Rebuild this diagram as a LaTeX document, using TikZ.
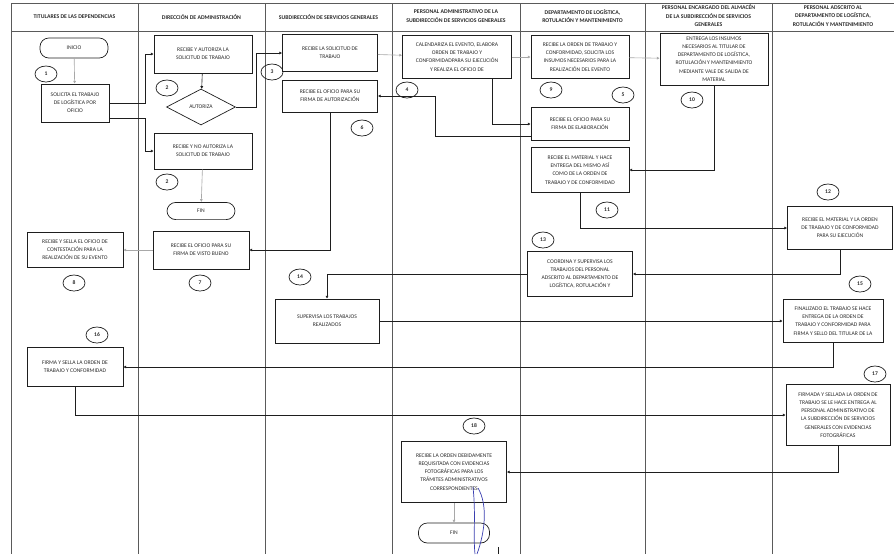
\documentclass[tikz,border=0pt]{standalone}
\usepackage{fontspec}
\setmainfont{Carlito}
\usetikzlibrary{
    positioning,
    calc,
    shapes.geometric,
    arrows.meta
}
\definecolor{Trazo}{HTML}{1E1E1E}
\definecolor{Carril}{HTML}{5A5A5A}
\definecolor{Tenue}{HTML}{A8A8A8}
\definecolor{Texto}{HTML}{2A2A2A}
\definecolor{Tinta}{HTML}{3A3FB0}

\begin{document}
\begin{tikzpicture}[
                x=0.025cm, y=-0.025cm,
                every node/.style={align=center, text=Texto},
                cabecera/.style={font=\fontsize{4.1}{6}\selectfont\bfseries, inner sep=0pt},
                actividad/.style={draw=Trazo, line width=0.5pt, inner sep=1pt, font=\fontsize{4}{5.8}\selectfont},
                terminal/.style={actividad, rounded corners=0.22cm},
                decision/.style={actividad, diamond, inner sep=0pt},
                paso/.style={draw=Trazo, line width=0.5pt, ellipse, minimum width=0.55cm, minimum height=0.4cm, inner sep=0pt, font=\fontsize{4}{5}\selectfont\bfseries},
                flujo/.style={-{Latex[length=2pt,width=2.2pt]}, line width=0.45pt, Trazo},
                flujotenue/.style={flujo, Tenue}
            ]

                \useasboundingbox (0,0) rectangle (894,554);

                % carriles
                \draw[Carril, line width=0.6pt]
                    (894,3) -- (11,3) -- (11,554)
                    (11,31) -- (894,31)
                    (138,3) -- (138,554)
                    (265,3) -- (265,554)
                    (392,3) -- (392,554)
                    (520,3) -- (520,554)
                    (645,3) -- (645,554)
                    (772,3) -- (772,554);

                \node[cabecera] (titulares) at (74.5,17) {TITULARES DE LAS DEPENDENCIAS};
                \node[cabecera] (direccion) at (201.5,17) {DIRECCIÓN DE ADMINISTRACIÓN};
                \node[cabecera] (subdireccion) at (328.5,17) {SUBDIRECCIÓN DE SERVICIOS GENERALES};
                \node[cabecera] (administrativo) at (456,16) {PERSONAL ADMINISTRATIVO DE LA\\SUBDIRECCIÓN DE SERVICIOS GENERALES};
                \node[cabecera] (departamento) at (582.5,16) {DEPARTAMENTO DE LOGÍSTICA,\\ROTULACIÓN Y MANTENIMIENTO};
                \node[cabecera] (almacen) at (708.5,16) {PERSONAL ENCARGADO DEL ALMACÉN\\DE LA SUBDIRECCIÓN DE SERVICIOS\\GENERALES};
                \node[cabecera] (adscrito) at (833,16) {PERSONAL ADSCRITO AL\\DEPARTAMENTO DE LOGÍSTICA,\\ROTULACIÓN Y MANTENIMIENTO};


                % titulares de las dependencias
                \node[
                    terminal,
                    minimum width=1.7cm,
                    minimum height=0.5cm
                ] (inicio) at (74,48) {INICIO};

                \node[
                    actividad,
                    minimum width=1.7cm,
                    minimum height=0.95cm
                ] (solicita) at (75,103) {SOLICITA EL TRABAJO\\DE LOGÍSTICA POR\\OFICIO};

                \node[
                    actividad,
                    minimum width=2.4cm,
                    minimum height=0.875cm
                ] (contestacion) at (75,250) {RECIBE Y SELLA EL OFICIO DE\\CONTESTACIÓN PARA LA\\REALIZACIÓN DE SU EVENTO};

                \node[
                    actividad,
                    minimum width=2.4cm,
                    minimum height=0.975cm
                ] (firmaorden) at (75,367) {FIRMA Y SELLA LA ORDEN DE\\TRABAJO Y CONFORMIDAD};


                % direccion de administracion
                \node[
                    actividad,
                    minimum width=2.45cm,
                    minimum height=0.95cm
                ] (autoriza) at (203,54) {RECIBE Y AUTORIZA LA\\SOLICITUD DE TRABAJO};

                \node[
                    decision,
                    minimum width=1.725cm,
                    minimum height=0.9cm
                ] (pregunta) at (201,107) {AUTORIZA};

                \node[
                    actividad,
                    minimum width=2.45cm,
                    minimum height=0.9cm
                ] (noautoriza) at (203,151) {RECIBE Y NO AUTORIZA LA\\SOLICITUD DE TRABAJO};

                \node[
                    terminal,
                    minimum width=1.7cm,
                    minimum height=0.43cm
                ] (finrechazo) at (201,211) {FIN};

                \node[
                    actividad,
                    minimum width=2.4cm,
                    minimum height=0.95cm
                ] (vistobueno) at (201,250) {RECIBE EL OFICIO PARA SU\\FIRMA DE VISTO BUENO};


                % subdireccion de servicios generales
                \node[
                    actividad,
                    minimum width=2.375cm,
                    minimum height=0.925cm
                ] (recibesol) at (330,53) {RECIBE LA SOLICITUD DE\\TRABAJO};

                \node[
                    actividad,
                    minimum width=2.375cm,
                    minimum height=0.8cm
                ] (firmaaut) at (330,96) {RECIBE EL OFICIO PARA SU\\FIRMA DE AUTORIZACIÓN};

                \node[
                    actividad,
                    minimum width=2.6cm,
                    minimum height=1.1cm
                ] (supervisa) at (327,321) {SUPERVISA LOS TRABAJOS\\REALIZADOS};


                % personal administrativo
                \node[
                    actividad,
                    minimum width=2.725cm,
                    minimum height=1.075cm
                ] (calendariza) at (457,57) {CALENDARIZA EL EVENTO, ELABORA\\ORDEN DE TRABAJO Y\\CONFORMIDADPARA SU EJECUCIÓN\\Y REALIZA EL OFICIO DE};

                \node[
                    actividad,
                    minimum width=2.625cm,
                    minimum height=1.525cm
                ] (requisitada) at (454,472) {RECIBE LA ORDEN DEBIDAMENTE\\REQUISITADA CON EVIDENCIAS\\FOTOGRÁFICAS PARA LOS\\TRÁMITES ADMINISTRATIVOS\\CORRESPONDIENTES};

                \node[
                    terminal,
                    minimum width=1.775cm,
                    minimum height=0.5cm
                ] (fin) at (454,533) {FIN};


                % departamento de logistica
                \node[
                    actividad,
                    minimum width=2.45cm,
                    minimum height=1.075cm
                ] (insumos) at (580,57) {RECIBE LA ORDEN DE TRABAJO Y\\CONFORMIDAD, SOLICITA LOS\\INSUMOS NECESARIOS PARA LA\\REALIZACIÓN DEL EVENTO};

                \node[
                    actividad,
                    minimum width=2.45cm,
                    minimum height=0.825cm
                ] (oficioelab) at (580,124) {RECIBE EL OFICIO PARA SU\\FIRMA DE ELABORACIÓN};

                \node[
                    actividad,
                    minimum width=2.45cm,
                    minimum height=1.125cm
                ] (material) at (580,170) {RECIBE EL MATERIAL Y HACE\\ENTREGA DEL MISMO ASÍ\\COMO DE LA ORDEN DE\\TRABAJO Y DE CONFORMIDAD};

                \node[
                    actividad,
                    minimum width=2.625cm,
                    minimum height=1.125cm
                ] (coordina) at (580,274) {COORDINA Y SUPERVISA LOS\\TRABAJOS DEL PERSONAL\\ADSCRITO AL DEPARTAMENTO DE\\LOGÍSTICA, ROTULACIÓN Y};


                % almacen
                \node[
                    actividad,
                    minimum width=2.7cm,
                    minimum height=1.3cm
                ] (entrega) at (714,59) {ENTREGA LOS INSUMOS\\NECESARIOS AL TITULAR DE\\DEPARTAMENTO DE LOGÍSTICA,\\ROTULACIÓN Y MANTENIMIENTO\\MEDIANTE VALE DE SALIDA DE\\MATERIAL};


                % personal adscrito
                \node[
                    actividad,
                    minimum width=2.625cm,
                    minimum height=1.075cm
                ] (ejecucion) at (840,228) {RECIBE EL MATERIAL Y LA ORDEN\\DE TRABAJO Y DE CONFORMIDAD\\PARA SU EJECUCIÓN};

                \node[
                    actividad,
                    minimum width=2.5cm,
                    minimum height=1.075cm
                ] (finalizado) at (833,321) {FINALIZADO EL TRABAJO SE HACE\\ENTREGA DE LA ORDEN DE\\TRABAJO Y CONFORMIDAD PARA\\FIRMA Y SELLO DEL TITULAR DE LA};

                \node[
                    actividad,
                    minimum width=2.6cm,
                    minimum height=1.525cm
                ] (firmada) at (838,415) {FIRMADA Y SELLADA LA ORDEN DE\\TRABAJO SE LE HACE ENTREGA AL\\PERSONAL ADMINISTRATIVO DE\\LA SUBDIRECCIÓN DE SERVICIOS\\GENERALES CON EVIDENCIAS\\FOTOGRÁFICAS};


                % numeros de paso
                \node[paso] (p1) at (46,74) {1};
                \node[paso] (p2) at (167,88) {2};
                \node[paso] (p2b) at (167,182) {2};
                \node[paso] (p3) at (272,72) {3};
                \node[paso] (p4) at (407,90) {4};
                \node[paso] (p5) at (623,95) {5};
                \node[paso] (p6) at (362,128) {6};
                \node[paso] (p7) at (200,283) {7};
                \node[paso] (p8) at (74,283) {8};
                \node[paso] (p9) at (551,90) {9};
                \node[paso] (p10) at (692,100) {10};
                \node[paso] (p11) at (607,210) {11};
                \node[paso] (p12) at (828,192) {12};
                \node[paso] (p13) at (543,240) {13};
                \node[paso] (p14) at (300,277) {14};
                \node[paso] (p15) at (860,284) {15};
                \node[paso] (p16) at (97,335) {16};
                \node[paso] (p17) at (875,374) {17};
                \node[paso] (p18) at (474,426) {18};


                \draw[flujotenue]
                    (inicio) -- (solicita);

                \draw[flujo]
                    (solicita.east) -- ++(36,0) |- (autoriza.west);

                \draw[flujo]
                    ([yshift=-0.375cm]solicita.east) -- ++(36,0) |- (noautoriza.west);

                \draw[flujo]
                    (autoriza) -- (pregunta);

                \draw[flujo]
                    (pregunta.east) -- ++(20,0) |- (recibesol.west);

                \draw[flujotenue]
                    (noautoriza) -- (finrechazo);

                \draw[flujotenue]
                    (recibesol) -- (calendariza);

                \draw[flujotenue]
                    (calendariza) -- (insumos);

                \draw[flujo]
                    ([xshift=0.875cm]calendariza.south) |- (oficioelab.west);

                \draw[flujo]
                    ([yshift=-0.3cm]oficioelab.west) -- ++(-95,0) |- (firmaaut.east);

                \draw[flujo]
                    (firmaaut.south) |- (vistobueno.east);

                \draw[flujotenue]
                    (vistobueno) -- (contestacion);

                \draw[flujotenue]
                    (insumos) -- (entrega);

                \draw[flujo]
                    (entrega.south) |- (material.east);

                \draw[flujo]
                    (material.south) |- (ejecucion.west);

                \draw[flujo]
                    (ejecucion.south) |- (coordina.east);

                \draw[flujo]
                    (coordina.west) -| (supervisa.north);

                \draw[flujo]
                    (supervisa) -- (finalizado);

                \draw[flujo]
                    (finalizado.south) |- (firmaorden.east);

                \draw[flujo]
                    (firmaorden.south) |- (firmada.west);

                \draw[flujo]
                    (firmada.south) |- (requisitada.east);

                \draw[flujotenue]
                    (requisitada) -- (fin);

                % trazos a mano
                \draw[Tinta, line width=0.5pt]
                    (473,487) .. controls (476,515) and (473,535) .. (475,554);
                \draw[Tinta, line width=0.5pt]
                    (478,488) .. controls (488,505) and (485,532) .. (477,554);
                \draw[Trazo, line width=0.4pt]
                    (498,547) -- (498,554);

            \end{tikzpicture}
\end{document}
